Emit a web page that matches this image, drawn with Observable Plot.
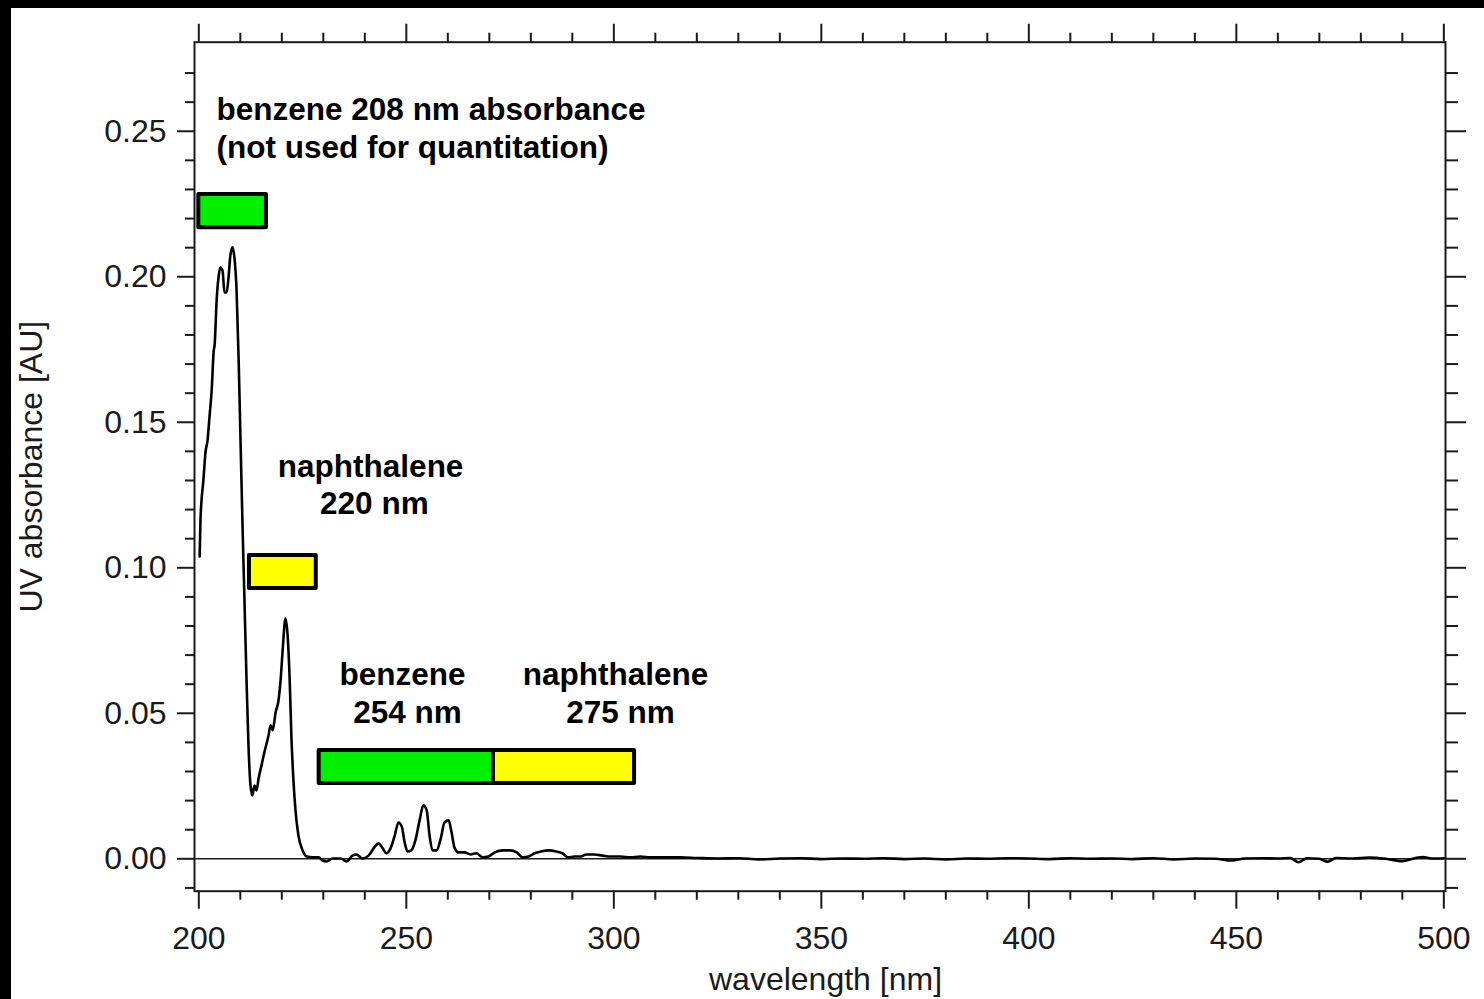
<!DOCTYPE html>
<html><head><meta charset="utf-8">
<script src="https://cdn.jsdelivr.net/npm/d3@7"></script>
<script src="https://cdn.jsdelivr.net/npm/@observablehq/plot@0.6"></script>
<style>
html,body{margin:0;padding:0;background:#fff;}
#wrap{position:relative;width:1484px;height:999px;overflow:hidden;background:#fff;}
#bandTop{position:absolute;left:0;top:0;width:1484px;height:8px;background:#000;}
#bandLeft{position:absolute;left:0;top:0;width:11px;height:999px;background:#000;}
</style></head><body>
<div id="wrap"><div id="chart"></div><div id="bandTop"></div><div id="bandLeft"></div></div>
<script>
// spectrum: [wavelength nm, absorbance AU]
const spectrum = [
[200.2,0.1039],[200.4,0.1163],[200.65,0.1231],[201.1,0.130],[201.6,0.1396],[202.1,0.1438],[202.6,0.1523],
[203.1,0.161],[203.6,0.1747],[203.8,0.1764],[204.3,0.192],[204.8,0.2004],[205.2,0.2032],[205.7,0.2022],
[206.2,0.1946],[206.7,0.1946],[207.2,0.2004],[207.6,0.2073],[208.1,0.2101],[208.6,0.2063],[209.1,0.1953],
[209.6,0.1713],[210.05,0.1438],[210.5,0.1163],[211.0,0.0888],[211.5,0.0613],[211.97,0.0389],[212.45,0.0252],
[212.9,0.0218],[213.4,0.0252],[213.9,0.0235],[214.4,0.0276],[215.1,0.0321],[215.8,0.0366],[216.8,0.0424],
[217.3,0.0459],[217.8,0.0442],[218.5,0.0503],[219.2,0.0544],[219.7,0.0613],[220.2,0.0716],[220.7,0.0812],
[220.9,0.0826],[221.4,0.0767],[221.9,0.0613],[222.3,0.0424],[222.8,0.027],[223.3,0.0166],[224.0,0.008],
[225.0,0.0029],[226.0,0.0008],[227.4,0.0005],[228.9,0.0005],[229.8,-0.0006],[230.8,-0.0009],[232.2,0.0001],
[234.2,0.0001],[235.6,-0.0009],[237.0,0.0011],[238.0,0.0015],[239.4,0.0001],[240.9,0.0011],[242.3,0.0039],
[243.3,0.0053],[244.3,0.0036],[245.2,0.0019],[246.2,0.0036],[247.2,0.0080],[248.1,0.0125],[248.9,0.0111],
[249.6,0.0056],[250.3,0.0025],[251.2,0.0029],[252.2,0.0064],[253.2,0.0132],[254.1,0.0184],[254.9,0.0167],
[255.6,0.0080],[256.3,0.0029],[257.3,0.0029],[258.3,0.007],[259.2,0.0125],[260.2,0.0132],[260.9,0.0091],
[261.6,0.0039],[262.6,0.0022],[264.0,0.0022],[265.5,0.0015],[266.9,0.0019],[268.4,0.0005],[269.8,0.0008],
[271.3,0.0022],[273.2,0.0029],[275.1,0.0029],[276.6,0.0022],[278.0,0.0005],[279.5,0.0008],[280.9,0.0019],
[282.4,0.0025],[284.3,0.0029],[286.2,0.0025],[287.6,0.0019],[289.1,0.0005],[290.5,0.0008],[292.0,0.0008],
[293.4,0.0015],[295.3,0.0015],[297.3,0.0011],[299.2,0.0008],[301.6,0.0008],[304.0,0.0005],[306.4,0.0008],
[308.8,0.0005],[311.2,0.0005],[313.6,0.0005],[316.0,0.0005],[320,0.0003],[325,0.0001],[330,0.0002],
[335,-0.0002],[340,0.0001],[345,0.0002],[350,-0.0001],[355,0.0001],[360,0.0],[365,0.0002],[370,-0.0001],
[375,0.0001],[380,-0.0002],[385,0.0001],[390,0.0],[395,0.0002],[400,0.0001],[405,-0.0001],[410,0.0002],
[415,0.0],[420,0.0001],[425,-0.0001],[430,0.0002],[435,-0.0002],[440,0.0001],[445,0.0],[449,-0.0006],
[452,0.0001],[456,0.0002],[460,0.0001],[463,0.0003],[465,-0.0012],[467,0.0002],[470,0.0],[472,-0.0010],
[474,0.0003],[478,0.0001],[482,0.0004],[486,0.0],[490,-0.0008],[493,0.0002],[495,0.0006],[497,0.0001],[500,0.0002]
];

// wavelength windows (boxes)
const boxX1 = [200, 212.2, 229, 271];
const boxX2 = [216.3, 228.3, 271, 305];
const boxY1 = [0.2168, 0.0929, 0.0259, 0.0259];
const boxY2 = [0.2283, 0.1042, 0.0372, 0.0372];
const boxColor = ["#00f000", "#ffff00", "#00f000", "#ffff00"];

// annotation labels
const noteLeftText = ["benzene 208 nm absorbance", "(not used for quantitation)"];
const noteLeftX = [204.27, 204.27];
const noteLeftY = [0.2575, 0.2444];
const noteText = ["naphthalene", "220 nm", "benzene", "254 nm", "naphthalene", "275 nm"];
const noteX = [241.4, 242.3, 249.1, 250.3, 300.4, 301.6];
const noteY = [0.1348, 0.1221, 0.0633, 0.0503, 0.0633, 0.0503];

// ticks
const xMajor = [200, 250, 300, 350, 400, 450, 500];
const xMinor = d3.range(210, 500, 10).filter(v => v % 50 !== 0);
const yMajor = [0, 0.05, 0.10, 0.15, 0.20, 0.25];
const yMinor = [-0.01, 0.01, 0.02, 0.03, 0.04, 0.06, 0.07, 0.08, 0.09, 0.11, 0.12, 0.13, 0.14, 0.16, 0.17, 0.18, 0.19, 0.21, 0.22, 0.23, 0.24, 0.26, 0.27];

const xTitle = "wavelength [nm]";
const yTitle = "UV absorbance [AU]";

const ink = "#1a1a1a";
const font = "'Liberation Sans', Arial, Helvetica, sans-serif";
const none = () => "";

const chart = Plot.plot({
  width: 1484,
  height: 999,
  marginLeft: 194,
  marginRight: 39,
  marginTop: 41.7,
  marginBottom: 108.3,
  x: {domain: [198.96, 500.4]},
  y: {domain: [-0.01113, 0.2806]},
  style: {fontFamily: font, fontSize: "32px", background: "transparent", color: ink},
  marks: [
    Plot.ruleY([0], {stroke: ink, strokeWidth: 1.6}),
    Plot.line(spectrum, {x: d => d[0], y: d => d[1], stroke: "#000", strokeWidth: 2.6, curve: "monotone-x", strokeLinejoin: "round"}),
    Plot.rect(boxColor, {x1: boxX1, x2: boxX2, y1: boxY1, y2: boxY2, fill: boxColor, stroke: "#000", strokeWidth: 4, strokeLinejoin: "round"}),
    Plot.frame({stroke: ink, strokeWidth: 2}),
    // left axis
    Plot.axisY({ticks: yMajor, tickSize: 17, tickPadding: 11, tickFormat: d => d.toFixed(2), label: null, fontSize: 32, stroke: ink, fill: ink, strokeWidth: 2}),
    Plot.axisY({ticks: yMinor, tickSize: 9, tickFormat: none, label: null, stroke: ink, strokeWidth: 2}),
    // right axis
    Plot.axisY({anchor: "right", ticks: yMajor, tickSize: 20, tickFormat: none, label: null, stroke: ink, strokeWidth: 2}),
    Plot.axisY({anchor: "right", ticks: yMinor, tickSize: 12, tickFormat: none, label: null, stroke: ink, strokeWidth: 2}),
    // bottom axis
    Plot.axisX({ticks: xMajor, tickSize: 18, tickPadding: 17, tickFormat: d => String(d), label: null, fontSize: 32, stroke: ink, fill: ink, strokeWidth: 2}),
    Plot.axisX({ticks: xMinor, tickSize: 9, tickFormat: none, label: null, stroke: ink, strokeWidth: 2}),
    // top axis
    Plot.axisX({anchor: "top", ticks: xMajor, tickSize: 19, tickFormat: none, label: null, stroke: ink, strokeWidth: 2}),
    Plot.axisX({anchor: "top", ticks: xMinor, tickSize: 10, tickFormat: none, label: null, stroke: ink, strokeWidth: 2}),
    // axis titles
    Plot.text([xTitle], {text: d => d, frameAnchor: "bottom", dx: 5.5, dy: 89, fontSize: 32, fill: ink, lineAnchor: "middle", textAnchor: "middle"}),
    Plot.text([yTitle], {text: d => d, frameAnchor: "left", rotate: -90, dx: -163, fontSize: 32, fill: ink, lineAnchor: "middle", textAnchor: "middle"}),
    // annotations
    Plot.text(noteLeftText, {x: noteLeftX, y: noteLeftY, text: d => d, textAnchor: "start", fontSize: 31.5, fontWeight: "bold", fill: "#000"}),
    Plot.text(noteText, {x: noteX, y: noteY, text: d => d, textAnchor: "middle", fontSize: 31.5, fontWeight: "bold", fill: "#000"})
  ]
});
document.getElementById("chart").appendChild(chart);
</script>
</body></html>
